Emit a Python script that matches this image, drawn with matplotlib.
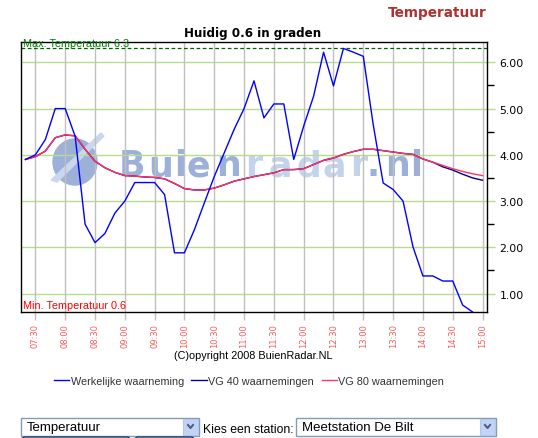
import matplotlib
matplotlib.use("Agg")
import matplotlib.pyplot as plt
from matplotlib.patches import Rectangle, Ellipse, Polygon, FancyBboxPatch
from matplotlib.lines import Line2D

W, H = 538, 439

# Data: 10-minute readings (degrees C)
times = ["07:20", "07:30", "07:40", "07:50", "08:00", "08:10", "08:20", "08:30",
         "08:40", "08:50", "09:00", "09:10", "09:20", "09:30", "09:40", "09:50",
         "10:00", "10:10", "10:20", "10:30", "10:40", "10:50", "11:00", "11:10",
         "11:20", "11:30", "11:40", "11:50", "12:00", "12:10", "12:20", "12:30",
         "12:40", "12:50", "13:00", "13:10", "13:20", "13:30", "13:40", "13:50",
         "14:00", "14:10", "14:20", "14:30", "14:40", "14:50", "15:00"]

observed = [3.90, 4.00, 4.33, 5.00, 5.00, 4.40, 2.50, 2.10, 2.30, 2.74, 3.00, 3.40,
            3.40, 3.40, 3.14, 1.88, 1.88, 2.38, 2.96, 3.53, 4.04, 4.55, 5.00, 5.60,
            4.80, 5.10, 5.10, 3.90, 4.62, 5.27, 6.22, 5.49, 6.30, 6.22, 6.13, 4.65,
            3.39, 3.25, 3.00, 2.01, 1.38, 1.38, 1.27, 1.27, 0.75, 0.60]

vg80 = [3.90, 3.96, 4.08, 4.37, 4.43, 4.41, 4.12, 3.86, 3.72, 3.62, 3.55, 3.54,
        3.52, 3.51, 3.48, 3.38, 3.27, 3.24, 3.24, 3.28, 3.35, 3.43, 3.48, 3.53,
        3.57, 3.61, 3.68, 3.68, 3.70, 3.79, 3.88, 3.93, 4.01, 4.07, 4.12, 4.12,
        4.09, 4.06, 4.03, 4.01, 3.91, 3.84, 3.77, 3.70, 3.64, 3.59, 3.55]

vg40 = [3.90, 3.96, 4.08, 4.37, 4.43, 4.41, 4.12, 3.86, 3.72, 3.62, 3.55, 3.54,
        3.52, 3.51, 3.48, 3.38, 3.27, 3.24, 3.24, 3.28, 3.35, 3.43, 3.48, 3.53,
        3.57, 3.61, 3.68, 3.68, 3.70, 3.79, 3.88, 3.93, 4.01, 4.07, 4.12, 4.12,
        4.09, 4.06, 4.03, 4.01, 3.91, 3.84, 3.74, 3.67, 3.58, 3.50, 3.45]

tick_labels = ["07:30", "08:00", "08:30", "09:00", "09:30", "10:00", "10:30", "11:00",
               "11:30", "12:00", "12:30", "13:00", "13:30", "14:00", "14:30", "15:00"]
y_major = [1, 2, 3, 4, 5, 6]
y_minor = [1.5, 2.5, 3.5, 4.5, 5.5]
max_temp = 6.3
min_temp = 0.6
current = 0.6


def to_min(s):
    h, m = s.split(":")
    return int(h) * 60 + int(m)


def fx(x):
    return x / W


def fy(y):
    return 1 - y / H


x = [to_min(t) for t in times]
xt = [to_min(t) for t in tick_labels]

fig = plt.figure(figsize=(W / 100, H / 100), dpi=100)
fig.patch.set_facecolor("white")

ax = fig.add_axes([fx(20.5), fy(313), (487 - 20.5) / W, (313 - 43) / H])
ax.set_xlim(435, 904.5)
ax.set_ylim(min_temp, 6.44)

# grid
for v in y_major:
    ax.axhline(v, color="#b5dd8c", lw=1, zorder=1)
for t in xt:
    ax.axvline(t, color="#c0c0c0", lw=1, zorder=1)

# watermark (Buienradar logo)
wm = "#9db1d8"
wm_light = "#c4d3ec"
ax.add_patch(Ellipse((fx(75), fy(163)), 44 / W, 46 / H, transform=fig.transFigure,
                     color=wm, zorder=0.6))
ax.add_patch(Polygon([(fx(101), fy(134)), (fx(104), fy(137)), (fx(57), fy(183)), (fx(51), fy(181))],
                     closed=True, transform=fig.transFigure, color="#cad7ee", zorder=0.65))
letters = [("B", 119, wm), ("u", 148, wm), ("i", 174, wm), ("e", 187, wm), ("n", 216, wm),
           ("r", 245, wm_light), ("a", 269, wm_light), ("d", 296, wm_light),
           ("a", 322, wm_light), ("r", 350, wm_light),
           (".", 366, wm), ("n", 385, wm), ("l", 410, wm)]
for ch, lx, c in letters:
    ax.text(fx(lx), fy(176.5), ch, transform=fig.transFigure, fontsize=25,
            fontweight="bold", color=c, zorder=0.6, va="baseline", ha="left")

# lines
l40, = ax.plot(x, vg40, color="#000080", lw=1, zorder=3, label="VG 40 waarnemingen")
l80, = ax.plot(x, vg80, color="#ff3366", lw=1, zorder=3.1, label="VG 80 waarnemingen")
lobs, = ax.plot(x[:len(observed)], observed, color="#0000ff", lw=1, zorder=3.2,
                label="Werkelijke waarneming")

ax.axhline(max_temp, color="#006400", lw=0.9, ls=(0, (3, 2)), zorder=2)

ax.text(fx(23), fy(44), "Max. Temperatuur %.1f" % max_temp, transform=fig.transFigure,
        color="#008000", fontsize=7.8, family="Liberation Sans", va="center", zorder=4)
ax.text(fx(23), fy(306), "Min. Temperatuur %.1f" % min_temp, transform=fig.transFigure,
        color="#ff0000", fontsize=7.8, family="Liberation Sans", va="center", zorder=4)

# axes
ax.yaxis.tick_right()
ax.set_yticks(y_major)
ax.set_yticklabels(["%.2f" % v for v in y_major])
ax.set_yticks(y_minor, minor=True)
ax.tick_params(axis="y", which="major", length=6, color="#b5dd8c", width=1,
               labelsize=7.8, pad=3)
ax.tick_params(axis="y", which="minor", length=5, color="black", width=1)
ax.set_xticks(xt)
ax.set_xticklabels(tick_labels, rotation=90, color="#ff5a5a", fontsize=6)
ax.tick_params(axis="x", length=6, color="#c0c0c0", width=1, pad=2)
for s in ax.spines.values():
    s.set_color("black")
    s.set_linewidth(1)

# titles
fig.text(fx(437), fy(12.5), "Temperatuur", color="#b03030", fontsize=9.8,
         fontweight="bold", ha="center", va="center")
fig.text(fx(253), fy(33.5), "Huidig %.1f in graden" % current, color="black",
         fontsize=8.6, fontweight="bold", ha="center", va="center")
fig.text(fx(253.5), fy(356), "(C)opyright 2008 BuienRadar.NL", fontsize=7.8,
         family="Liberation Sans", ha="center", va="center")

fig.legend(handles=[lobs, l40, l80], loc="center", bbox_to_anchor=(fx(249), fy(382)),
           ncol=3, frameon=False, handlelength=1.4, handletextpad=0.15,
           columnspacing=0.7, prop={"family": "Liberation Sans", "size": 7.8},
           labelcolor="#333333")

# form widgets under the chart
for x0, x1, label in [(21, 199, "Temperatuur"), (296, 496, "Meetstation De Bilt")]:
    fig.add_artist(Rectangle((fx(x0), fy(436.5)), (x1 - x0) / W, 17.5 / H,
                             transform=fig.transFigure, fc="white", ec="#7f9db9", lw=1))
    fig.add_artist(Rectangle((fx(x1 - 16), fy(435.5)), 15 / W, 15.5 / H,
                             transform=fig.transFigure, fc="#c3d3f5", ec="#b4c6ee", lw=0.8))
    cx = x1 - 8.5
    fig.add_artist(Line2D([fx(cx - 2.5), fx(cx), fx(cx + 2.5)], [fy(426), fy(429), fy(426)],
                          transform=fig.transFigure, color="#4d6185", lw=1.5))
    fig.text(fx(x0 + 6), fy(428), label, fontsize=9.5, family="Liberation Sans",
             va="center")
fig.text(fx(203), fy(430), "Kies een station:", fontsize=8.8, family="Liberation Sans",
         va="center")
for x0, x1 in [(22, 130), (135, 194)]:
    fig.add_artist(FancyBboxPatch((fx(x0), fy(450)), (x1 - x0) / W, 12 / H,
                                  boxstyle="round,pad=0,rounding_size=0.006",
                                  transform=fig.transFigure, fc="#f4f4f0", ec="#1c3a70", lw=1))

fig.savefig("out.png", dpi=100)
